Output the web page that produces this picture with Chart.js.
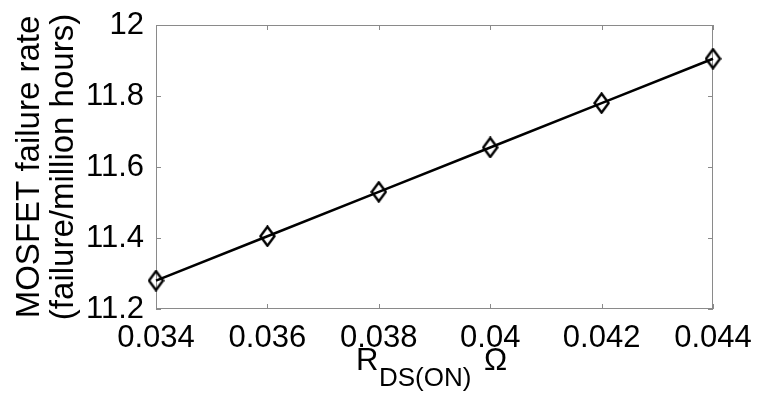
<!DOCTYPE html>
<html>
<head>
<meta charset="utf-8">
<script src="https://cdn.jsdelivr.net/npm/chart.js@4.4.1/dist/chart.umd.min.js"></script>
<style>
    html, body { margin: 0; padding: 0; background: #fff; }
    #wrap { width: 759px; height: 398px; position: relative; }
</style>
</head>
<body>
<div id="wrap"><canvas id="rateChart"></canvas></div>
<script>

// =========================
// DATA
// =========================

const rdsOn = [0.034, 0.036, 0.038, 0.040, 0.042, 0.044];
const failureRate = [11.28, 11.405, 11.53, 11.655, 11.78, 11.905];

const xTickValues = [0.034, 0.036, 0.038, 0.040, 0.042, 0.044];
const xTickLabels = ["0.034", "0.036", "0.038", "0.04", "0.042", "0.044"];

const yTickValues = [11.2, 11.4, 11.6, 11.8, 12];
const yTickLabels = ["11.2", "11.4", "11.6", "11.8", "12"];

const FONT = "'Liberation Sans', Arial, Helvetica, sans-serif";
const AXIS_GRAY = "#8a8a8a";

// =========================
// DIAMOND MARKER (open, taller than wide)
// =========================

function makeDiamond(w, h) {
    const c = document.createElement("canvas");
    c.width = w;
    c.height = h;
    const g = c.getContext("2d");
    g.strokeStyle = "#000";
    g.lineWidth = 2.4;
    g.lineJoin = "miter";
    g.beginPath();
    g.moveTo(w / 2, 1.5);
    g.lineTo(w - 1.5, h / 2);
    g.lineTo(w / 2, h - 1.5);
    g.lineTo(1.5, h / 2);
    g.closePath();
    g.stroke();
    return c;
}

const diamond = makeDiamond(17, 22);

// =========================
// BOX + INWARD TICKS + AXIS TITLES
// =========================

const framePlugin = {
    id: "frame",
    beforeDatasetsDraw(chart) {
        const { ctx, chartArea: a, scales } = chart;
        const len = 5;
        ctx.save();
        ctx.strokeStyle = AXIS_GRAY;
        ctx.lineWidth = 1;
        ctx.strokeRect(a.left + 0.5, a.top + 0.5, a.right - a.left - 1, a.bottom - a.top - 1);
        ctx.beginPath();
        xTickValues.forEach(v => {
            const x = Math.round(scales.x.getPixelForValue(v)) + 0.5;
            ctx.moveTo(x, a.bottom);
            ctx.lineTo(x, a.bottom - len);
            ctx.moveTo(x, a.top);
            ctx.lineTo(x, a.top + len);
        });
        yTickValues.forEach(v => {
            const y = Math.round(scales.y.getPixelForValue(v)) + 0.5;
            ctx.moveTo(a.left, y);
            ctx.lineTo(a.left + len, y);
            ctx.moveTo(a.right, y);
            ctx.lineTo(a.right - len, y);
        });
        ctx.stroke();
        ctx.restore();
    },
    afterDraw(chart) {
        const { ctx } = chart;
        ctx.save();
        ctx.fillStyle = "#000";
        ctx.textBaseline = "alphabetic";

        // x title: R with DS(ON) subscript, then ohm sign
        ctx.textAlign = "left";
        ctx.font = "31px " + FONT;
        ctx.fillText("R", 356, 370);
        ctx.font = "26px " + FONT;
        ctx.fillText("DS(ON)", 379, 386);
        ctx.font = "31px " + FONT;
        ctx.fillText("\u03A9", 484, 370);

        // y title, two rotated lines
        ctx.translate(0, 167);
        ctx.rotate(-Math.PI / 2);
        ctx.textAlign = "center";
        ctx.textBaseline = "middle";
        ctx.font = "33px " + FONT;
        ctx.fillText("MOSFET failure rate", 0, 30);
        ctx.fillText("(failure/million hours)", 0, 64);
        ctx.restore();
    }
};

// =========================
// CHART
// =========================

new Chart(document.getElementById("rateChart"), {
    type: "line",
    data: {
        datasets: [{
            data: rdsOn.map((x, i) => ({ x: x, y: failureRate[i] })),
            borderColor: "#000",
            borderWidth: 2.5,
            backgroundColor: "transparent",
            pointStyle: diamond,
            pointRadius: 8,
            tension: 0,
            fill: false,
            clip: false
        }]
    },
    options: {
        responsive: true,
        maintainAspectRatio: false,
        animation: false,
        layout: { padding: { top: 25, right: 46, left: 0, bottom: 0 } },
        plugins: {
            legend: { display: false },
            tooltip: { enabled: false }
        },
        scales: {
            x: {
                type: "linear",
                min: 0.034,
                max: 0.044,
                afterBuildTicks: s => { s.ticks = xTickValues.map(v => ({ value: v })); },
                afterFit: s => { s.height = 89; },
                grid: { display: false },
                border: { display: false },
                ticks: {
                    color: "#000",
                    padding: 3,
                    maxRotation: 0,
                    autoSkip: false,
                    font: { family: FONT, size: 31 },
                    callback: (v, i) => xTickLabels[i]
                }
            },
            y: {
                type: "linear",
                min: 11.2,
                max: 12,
                afterBuildTicks: s => { s.ticks = yTickValues.map(v => ({ value: v })); },
                afterFit: s => { s.width = 156; },
                grid: { display: false },
                border: { display: false },
                ticks: {
                    color: "#000",
                    padding: 4,
                    autoSkip: false,
                    font: { family: FONT, size: 31 },
                    callback: (v, i) => yTickLabels[i]
                }
            }
        }
    },
    plugins: [framePlugin]
});

</script>
</body>
</html>
